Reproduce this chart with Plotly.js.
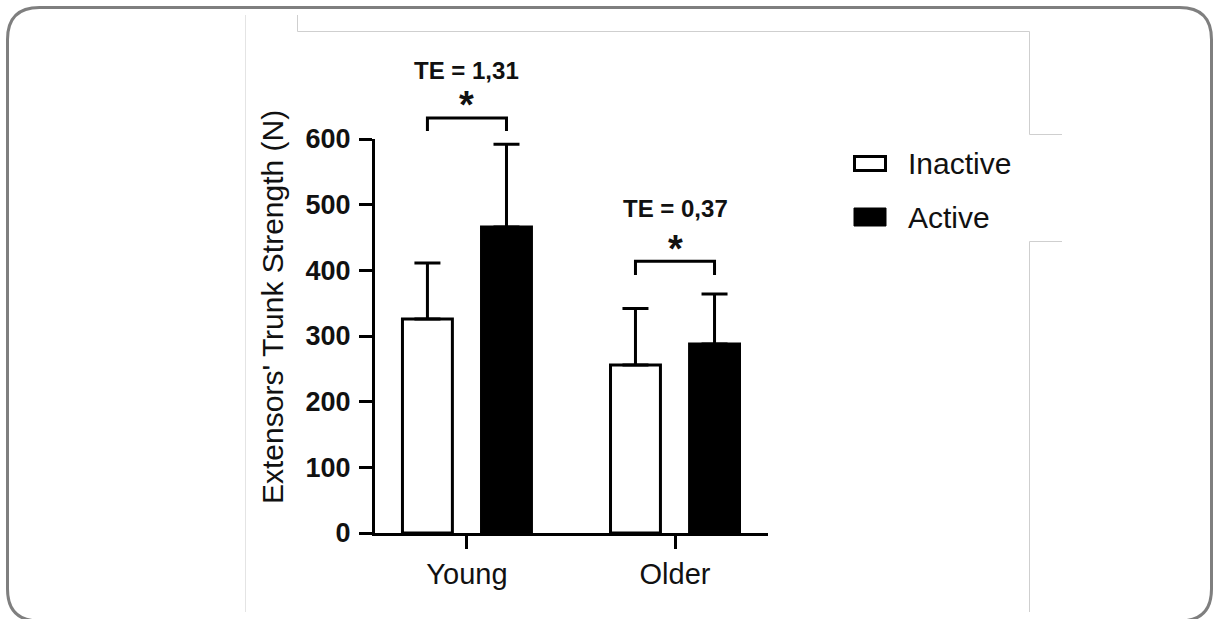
<!DOCTYPE html>
<html><head><meta charset="utf-8">
<script src="https://cdn.plot.ly/plotly-3.0.1.min.js"></script>
<style>html,body{margin:0;padding:0;background:#fff;overflow:hidden;} #chart{width:1219px;height:619px;}</style>
</head><body><div id="chart"></div>
<script>
// ---- data ----
const categories = ['Young', 'Older'];
const seriesNames = ['Inactive', 'Active'];
const inactiveMean = [326, 256];
const inactiveSD = [85, 86];
const activeMean = [466, 288];
const activeSD = [126, 76];
const effectLabels = ['TE = 1,31', 'TE = 0,37'];
const sigMarks = ['*', '*'];
const bracketTop = [632, 414];
const bracketLeg = [612, 393];
const starY = [652, 433];
const teY = [704, 494];
const yTicks = [0, 100, 200, 300, 400, 500, 600];
const yTitle = "Extensors' Trunk Strength (N)";

// ---- layout geometry ----
const W = 1219, H = 619;
const M = {l: 375, r: 451, t: 139, b: 86};
const PW = W - M.l - M.r, PH = H - M.t - M.b;
const YMAX = 600;
const X = px => (px - M.l) / PW;
const Y = py => (H - M.b - py) / PH;
const FONT = 'Liberation Sans, Arial, Helvetica, sans-serif';
const BW = 0.24, OFF_IN = -0.31, OFF_ACT = 0.07;
const cIn = OFF_IN + BW / 2, cAct = OFF_ACT + BW / 2;
const xIdx = categories.map((c, i) => i);

const traces = [
  {
    type: 'bar', name: seriesNames[0], x: xIdx, y: inactiveMean,
    width: BW, offset: OFF_IN,
    marker: {color: '#ffffff', line: {color: '#000', width: 3}},
    error_y: {type: 'data', symmetric: false, array: inactiveSD, arrayminus: inactiveSD.map(() => 0),
              color: '#000', thickness: 3, width: 13},
    showlegend: false, hoverinfo: 'skip'
  },
  {
    type: 'bar', name: seriesNames[1], x: xIdx, y: activeMean,
    width: BW, offset: OFF_ACT,
    marker: {color: '#000000', line: {color: '#000', width: 3}},
    error_y: {type: 'data', symmetric: false, array: activeSD, arrayminus: activeSD.map(() => 0),
              color: '#000', thickness: 3, width: 13},
    showlegend: false, hoverinfo: 'skip'
  }
];

const shapes = [];
// significance brackets
xIdx.forEach((xi, i) => {
  const x0 = xi + cIn, x1 = xi + cAct;
  const yt = bracketTop[i] / YMAX, yl = bracketLeg[i] / YMAX;
  shapes.push({type: 'path', xref: 'x', yref: 'paper',
    path: `M${x0},${yl} L${x0},${yt} L${x1},${yt} L${x1},${yl}`,
    line: {color: '#000', width: 3}});
});

// legend boxes
shapes.push({type: 'rect', xref: 'paper', yref: 'paper', x0: X(854.5), x1: X(885.5), y0: Y(156.5), y1: Y(170.5),
  fillcolor: '#fff', line: {color: '#000', width: 3}});
shapes.push({type: 'rect', xref: 'paper', yref: 'paper', x0: X(854), x1: X(886), y0: Y(208), y1: Y(226),
  fillcolor: '#000', line: {color: '#000', width: 1}});

// decorative frame and faint lines
const r = 32, L = 7.5, R = 1211.5, T = 7.5, B = 621;
shapes.push({type: 'path', xref: 'paper', yref: 'paper', layer: 'below',
  path: `M${X(L + r)},${Y(T)} L${X(R - r)},${Y(T)} Q${X(R)},${Y(T)} ${X(R)},${Y(T + r)} ` +
        `L${X(R)},${Y(B - r)} Q${X(R)},${Y(B)} ${X(R - r)},${Y(B)} ` +
        `L${X(L + r)},${Y(B)} Q${X(L)},${Y(B)} ${X(L)},${Y(B - r)} ` +
        `L${X(L)},${Y(T + r)} Q${X(L)},${Y(T)} ${X(L + r)},${Y(T)} Z`,
  line: {color: '#7f7f7f', width: 3}});
shapes.push({type: 'line', xref: 'paper', yref: 'paper', layer: 'below',
  x0: X(245.5), x1: X(245.5), y0: Y(15), y1: Y(612), line: {color: '#e4e4e4', width: 1}});
shapes.push({type: 'path', xref: 'paper', yref: 'paper', layer: 'below',
  path: `M${X(297.5)},${Y(15)} L${X(297.5)},${Y(31.5)} L${X(1029.5)},${Y(31.5)} L${X(1029.5)},${Y(134.5)} L${X(1062)},${Y(134.5)}`,
  line: {color: '#cfcfcf', width: 1}});
shapes.push({type: 'path', xref: 'paper', yref: 'paper', layer: 'below',
  path: `M${X(1062)},${Y(241.5)} L${X(1029.5)},${Y(241.5)} L${X(1029.5)},${Y(612)}`,
  line: {color: '#cfcfcf', width: 1}});

const annotations = [];
xIdx.forEach((xi, i) => {
  annotations.push({xref: 'x', yref: 'paper', x: xi, y: teY[i] / YMAX, text: effectLabels[i],
    showarrow: false, xanchor: 'center', yanchor: 'middle',
    font: {family: FONT, size: 24, weight: 700, color: '#111'}});
  annotations.push({xref: 'x', yref: 'paper', x: xi, y: starY[i] / YMAX, text: sigMarks[i],
    showarrow: false, xanchor: 'center', yanchor: 'middle',
    font: {family: FONT, size: 38, weight: 700, color: '#111'}});
});
// y title
annotations.push({xref: 'paper', yref: 'paper', x: X(272), y: Y(307), text: yTitle, textangle: -90,
  showarrow: false, xanchor: 'center', yanchor: 'middle',
  font: {family: FONT, size: 30, color: '#111'}});
// legend labels
annotations.push({xref: 'paper', yref: 'paper', x: X(906), y: Y(163), text: seriesNames[0],
  showarrow: false, xanchor: 'left', yanchor: 'middle', font: {family: FONT, size: 30, color: '#111'}});
annotations.push({xref: 'paper', yref: 'paper', x: X(906), y: Y(217), text: seriesNames[1],
  showarrow: false, xanchor: 'left', yanchor: 'middle', font: {family: FONT, size: 30, color: '#111'}});

const layout = {
  width: W, height: H, margin: M,
  paper_bgcolor: '#fff', plot_bgcolor: 'rgba(0,0,0,0)',
  font: {family: FONT, color: '#111'},
  barmode: 'overlay',
  showlegend: false,
  xaxis: {
    range: [-0.442, 1.447], tickvals: xIdx, ticktext: categories,
    showline: true, linecolor: '#000', linewidth: 3,
    ticks: 'outside', ticklen: 13, tickwidth: 3, tickcolor: '#000',
    showgrid: false, zeroline: false, fixedrange: true,
    tickfont: {family: FONT, size: 29, color: '#111'}
  },
  yaxis: {
    range: [0, YMAX], tickvals: yTicks,
    showline: true, linecolor: '#000', linewidth: 3,
    ticks: 'outside', ticklen: 13, tickwidth: 3, tickcolor: '#000',
    showgrid: false, zeroline: false, fixedrange: true,
    ticklabelstandoff: 3,
    tickfont: {family: FONT, size: 27, weight: 700, color: '#111'}
  },
  shapes: shapes,
  annotations: annotations
};

Plotly.newPlot('chart', traces, layout, {displayModeBar: false, staticPlot: true});
</script>
</body></html>
